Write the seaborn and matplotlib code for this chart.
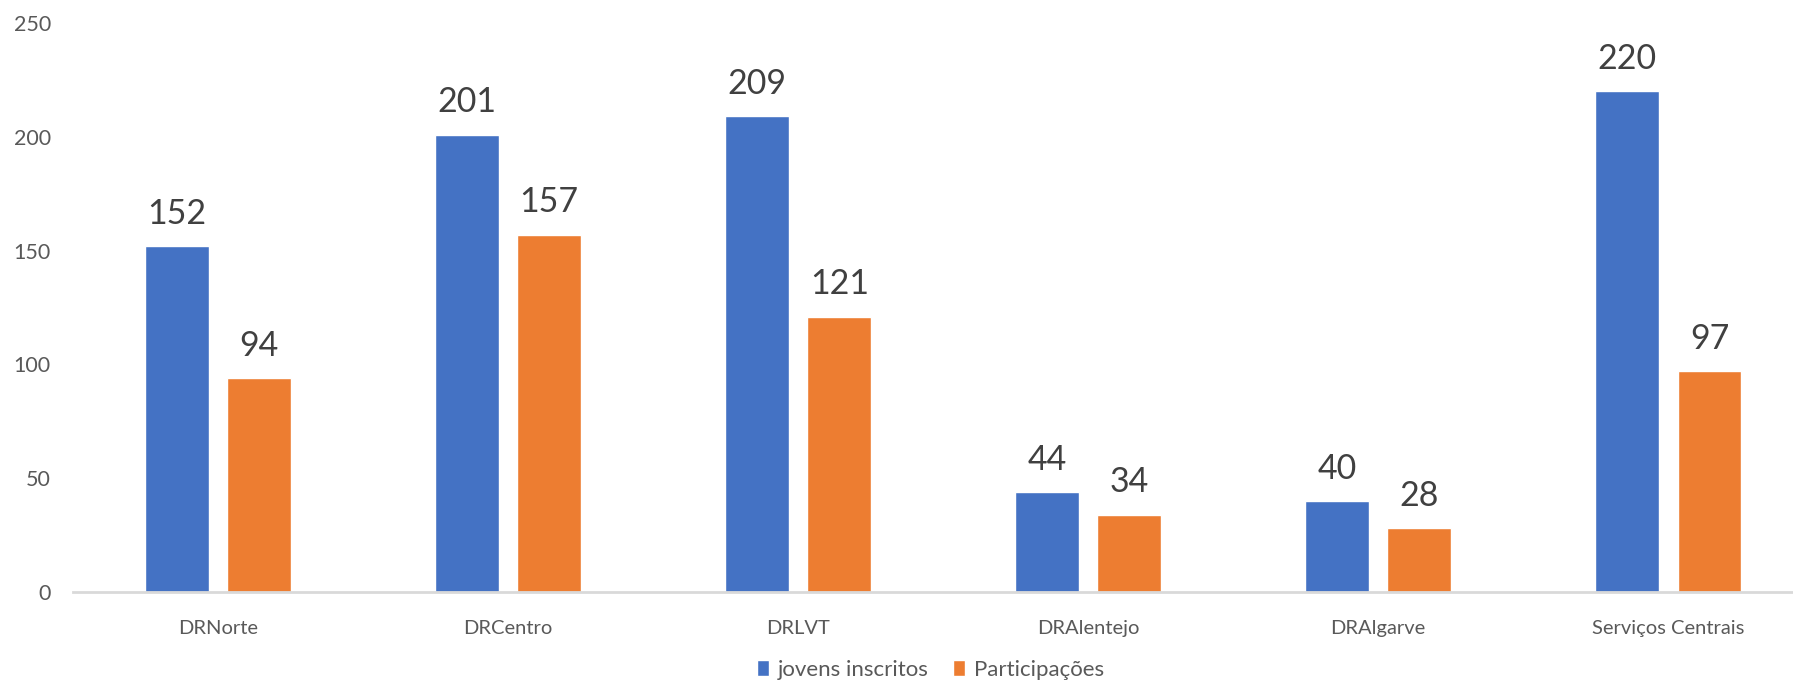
import matplotlib
matplotlib.use("Agg")
import matplotlib.pyplot as plt
import seaborn as sns
import pandas as pd

categories = ["DRNorte", "DRCentro", "DRLVT", "DRAlentejo", "DRAlgarve", "Serviços Centrais"]
jovens_inscritos = [152, 201, 209, 44, 40, 220]
participacoes = [94, 157, 121, 34, 28, 97]
series_names = ["jovens inscritos", "Participações"]
y_ticks = [0, 50, 100, 150, 200, 250]

df = pd.DataFrame({
    "categoria": categories * 2,
    "valor": jovens_inscritos + participacoes,
    "serie": [series_names[0]] * len(categories) + [series_names[1]] * len(categories),
})

sns.set_theme(style="white")
plt.rcParams["font.family"] = ["Lato", "DejaVu Sans"]

fig = plt.figure(figsize=(17.93, 6.85), dpi=100)
ax = fig.add_axes([73 / 1793, 93 / 685, 1 - 73 / 1793, (662 - 93) / 685])

palette = {"jovens inscritos": "#4472C4", "Participações": "#ED7D31"}
sns.barplot(data=df, x="categoria", y="valor", hue="serie", palette=palette,
            order=categories, hue_order=series_names, width=0.568, gap=0.225,
            saturation=1, ax=ax, legend=True, errorbar=None)

for cont in ax.containers:
    for bar in cont:
        h = bar.get_height()
        ax.annotate(f"{int(round(h))}", (bar.get_x() + bar.get_width() / 2, h),
                    xytext=(0, 16), textcoords="offset points",
                    ha="center", va="baseline", fontsize=24.5, color="#404040")

ax.set_ylim(0, 250)
ax.set_xlim(-0.5, 5.43)
ax.set_yticks(y_ticks)
ax.set_xlabel("")
ax.set_ylabel("")
for s in ["top", "right", "left"]:
    ax.spines[s].set_visible(False)
ax.spines["bottom"].set_color("#d9d9d9")
ax.spines["bottom"].set_linewidth(2)
ax.tick_params(axis="x", length=0, pad=20, labelsize=14.5, labelcolor="#595959")
ax.tick_params(axis="y", length=0, pad=16, labelsize=15.5, labelcolor="#595959")
for lab in ax.get_yticklabels():
    lab.set_horizontalalignment("right")

handles, labels = ax.get_legend_handles_labels()
ax.get_legend().remove()
fig.legend(handles, labels, loc="center", bbox_to_anchor=(0.519, 1 - 670 / 685),
           ncol=2, frameon=False, fontsize=16, handlelength=0.55, handleheight=0.75,
           handletextpad=0.4, columnspacing=1.1, labelcolor="#595959")

fig.savefig("out.png", dpi=100, facecolor="white")
